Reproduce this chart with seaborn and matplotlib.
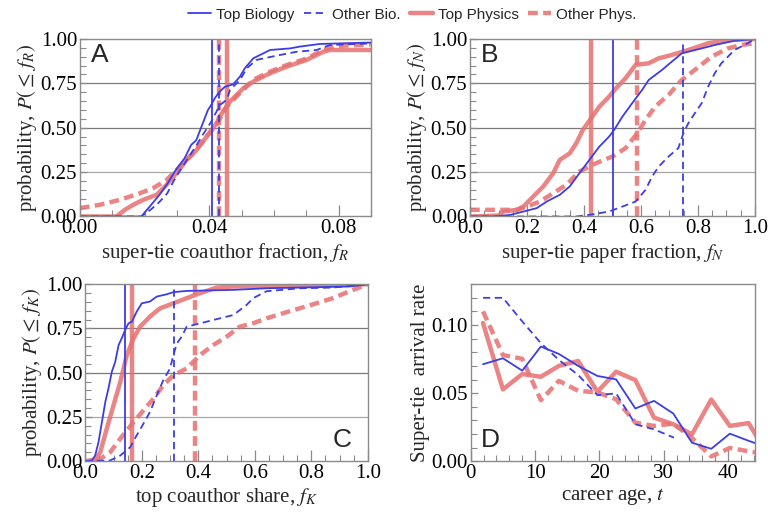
import matplotlib
matplotlib.use('Agg')
import matplotlib.pyplot as plt
from matplotlib.lines import Line2D
from matplotlib.ticker import MultipleLocator, FormatStrFormatter
import pandas as pd
import seaborn as sns

sns.set_theme(style='white')
plt.rcParams['font.family'] = ['Liberation Serif', 'DejaVu Serif']
plt.rcParams['mathtext.fontset'] = 'stix'

BLUE = '#3d3de6'
RED = '#e87070'

# ---- panel A: super-tie coauthor fraction f_R (CDFs)
a_topbio_x = [0, 0.019, 0.0216, 0.0246, 0.0272, 0.0293, 0.0324, 0.0344, 0.036, 0.037, 0.0386, 0.0396,
              0.0406, 0.0417, 0.0432, 0.0448, 0.0474, 0.0495, 0.051, 0.0536, 0.0588, 0.065, 0.068, 0.0742, 0.09]
a_topbio_y = [0, 0, 0.056, 0.122, 0.188, 0.253, 0.329, 0.403, 0.43, 0.478, 0.553, 0.60,
              0.628, 0.666, 0.703, 0.73, 0.745, 0.788, 0.835, 0.891, 0.938, 0.947, 0.957, 0.972, 0.98]
a_othbio_x = [0, 0.019, 0.022, 0.0245, 0.027, 0.029, 0.031, 0.0335, 0.036, 0.038, 0.0405, 0.0425,
              0.0433, 0.0454, 0.0464, 0.0495, 0.0516, 0.0546, 0.0608, 0.067, 0.0732, 0.0773, 0.09]
a_othbio_y = [0, 0, 0.04, 0.08, 0.13, 0.2, 0.26, 0.33, 0.4, 0.46, 0.53, 0.6,
              0.628, 0.657, 0.713, 0.769, 0.835, 0.882, 0.906, 0.928, 0.938, 0.966, 0.975]
a_topphy_x = [0, 0.0113, 0.0139, 0.0165, 0.0196, 0.0237, 0.0268, 0.0299, 0.033, 0.0361, 0.0392, 0.0423,
              0.0433, 0.0464, 0.0505, 0.0536, 0.0588, 0.0639, 0.0701, 0.0753, 0.0773, 0.09]
a_topphy_y = [0, 0, 0.0375, 0.066, 0.094, 0.122, 0.178, 0.244, 0.319, 0.375, 0.45, 0.525,
              0.565, 0.647, 0.722, 0.76, 0.807, 0.844, 0.882, 0.928, 0.938, 0.938]
a_othphy_x = [0, 0.0062, 0.0124, 0.0186, 0.0227, 0.0268, 0.0309, 0.035, 0.0392, 0.0423, 0.0454,
              0.0536, 0.0588, 0.0639, 0.0701, 0.0753, 0.079, 0.09]
a_othphy_y = [0.047, 0.066, 0.094, 0.131, 0.16, 0.206, 0.281, 0.356, 0.45, 0.52, 0.62,
              0.77, 0.816, 0.853, 0.89, 0.938, 0.96, 0.97]
a_medians = [0.0409, 0.0430, 0.0454, 0.0430]  # top bio, other bio, top phys, other phys

# ---- panel B: super-tie paper fraction f_N
b_topbio_x = [0, 0.083, 0.141, 0.1875, 0.234, 0.269, 0.315, 0.35, 0.384, 0.419, 0.454, 0.488, 0.506,
              0.535, 0.569, 0.604, 0.627, 0.674, 0.708, 0.743, 0.813, 0.859, 0.928, 1.0]
b_topbio_y = [0, 0, 0.009, 0.028, 0.047, 0.084, 0.122, 0.169, 0.244, 0.319, 0.394, 0.45, 0.488,
              0.563, 0.638, 0.713, 0.769, 0.826, 0.872, 0.919, 0.947, 0.966, 0.99, 1.0]
b_othbio_x = [0, 0.373, 0.419, 0.488, 0.535, 0.581, 0.616, 0.639, 0.662, 0.697, 0.731, 0.749, 0.766,
              0.789, 0.813, 0.836, 0.859, 0.882, 0.905, 0.928, 0.963, 1.0]
b_othbio_y = [0, 0, 0.009, 0.028, 0.056, 0.084, 0.15, 0.225, 0.281, 0.338, 0.385, 0.469, 0.525,
              0.582, 0.638, 0.732, 0.807, 0.863, 0.9, 0.938, 0.966, 1.0]
b_topphy_x = [0, 0.1, 0.118, 0.164, 0.1875, 0.222, 0.257, 0.292, 0.315, 0.35, 0.373, 0.396, 0.425,
              0.454, 0.488, 0.512, 0.546, 0.581, 0.627, 0.662, 0.708, 0.766, 0.836, 0.905, 1.0]
b_topphy_y = [0, 0.005, 0.028, 0.0375, 0.056, 0.113, 0.169, 0.244, 0.319, 0.356, 0.413, 0.488, 0.553,
              0.619, 0.675, 0.722, 0.779, 0.854, 0.863, 0.891, 0.91, 0.938, 0.976, 0.994, 1.0]
b_othphy_x = [0, 0.164, 0.2, 0.245, 0.292, 0.338, 0.384, 0.442, 0.5, 0.546, 0.587, 0.616, 0.65,
              0.697, 0.743, 0.789, 0.847, 0.905, 0.951, 1.0]
b_othphy_y = [0.0375, 0.0375, 0.056, 0.084, 0.131, 0.178, 0.253, 0.3, 0.338, 0.385, 0.469, 0.544, 0.619,
              0.685, 0.769, 0.826, 0.9, 0.947, 0.966, 0.976]
b_medians = [0.503, 0.746, 0.425, 0.587]

# ---- panel C: top coauthor share f_K
c_topbio_x = [0, 0.024, 0.035, 0.047, 0.059, 0.071, 0.082, 0.094, 0.106, 0.118, 0.129, 0.141, 0.153,
              0.165, 0.182, 0.2, 0.229, 0.253, 0.288, 0.312, 0.359, 0.524, 0.641, 0.935, 1.0]
c_topbio_y = [0, 0.004, 0.032, 0.108, 0.221, 0.335, 0.41, 0.505, 0.561, 0.656, 0.694, 0.741, 0.779,
              0.788, 0.845, 0.892, 0.902, 0.93, 0.943, 0.955, 0.962, 0.968, 0.977, 0.987, 1.0]
c_othbio_x = [0, 0.088, 0.124, 0.159, 0.182, 0.206, 0.229, 0.253, 0.276, 0.3, 0.312, 0.324, 0.341,
              0.359, 0.382, 0.429, 0.476, 0.524, 0.571, 0.594, 0.641, 0.759, 0.876, 0.947, 1.0]
c_othbio_y = [0, 0.004, 0.032, 0.079, 0.146, 0.212, 0.278, 0.372, 0.457, 0.524, 0.6, 0.665, 0.703,
              0.76, 0.769, 0.788, 0.807, 0.826, 0.883, 0.921, 0.96, 0.977, 0.981, 0.992, 1.0]
c_topphy_x = [0, 0.035, 0.053, 0.076, 0.1, 0.124, 0.147, 0.171, 0.194, 0.229, 0.265, 0.312, 0.359,
              0.406, 0.465, 0.524, 1.0]
c_topphy_y = [0, 0.01, 0.05, 0.183, 0.316, 0.448, 0.6, 0.694, 0.76, 0.817, 0.864, 0.892, 0.921,
              0.949, 0.981, 0.987, 1.0]
c_othphy_x = [0.04, 0.053, 0.088, 0.124, 0.171, 0.206, 0.241, 0.276, 0.312, 0.359, 0.406, 0.453, 0.5,
              0.547, 0.594, 0.641, 0.7, 0.759, 0.818, 0.876, 0.935, 1.0]
c_othphy_y = [0, 0.013, 0.05, 0.127, 0.221, 0.287, 0.353, 0.429, 0.486, 0.524, 0.6, 0.656, 0.703,
              0.76, 0.779, 0.807, 0.836, 0.864, 0.892, 0.921, 0.96, 1.0]
c_medians = [0.141, 0.314, 0.167, 0.388]

# ---- panel D: super-tie arrival rate vs career age
d_age = [1.9, 5.0, 8.0, 10.9, 13.7, 16.7, 19.7, 22.6, 25.6, 28.5, 31.5, 34.4, 37.4, 40.3, 43.2, 46.2]
d_topbio = [0.0712, 0.0756, 0.0665, 0.0842, 0.0788, 0.070, 0.0626, 0.0601, 0.0387, 0.0443, 0.035,
            0.0136, 0.0091, 0.0202, 0.015, 0.010]
d_topphy = [0.1015, 0.0527, 0.064, 0.062, 0.070, 0.0736, 0.051, 0.0657, 0.0596, 0.032, 0.0271,
            0.0197, 0.0453, 0.0259, 0.028, 0.005]
d_othphy = [0.110, 0.078, 0.0752, 0.0448, 0.059, 0.0517, 0.0505, 0.0455, 0.0283, 0.0259, 0.0276,
            0.017, 0.0035, 0.0097, 0.0073, 0.005]
d_othbio_age = [1.9, 5.0, 8.0, 10.9, 13.7, 16.7, 19.7, 22.6, 25.6, 28.5, 31.6]
d_othbio = [0.12, 0.12, 0.1027, 0.0867, 0.0744, 0.0633, 0.0485, 0.0498, 0.0271, 0.0234, 0.0173]

labels = ['Top Biology', 'Other Bio.', 'Top Physics', 'Other Phys.']
styles = [dict(color=BLUE, lw=1.3, ls='-'),
          dict(color=BLUE, lw=1.3, ls=(0, (4, 2.5))),
          dict(color=RED, lw=3.2, ls='-', alpha=0.85),
          dict(color=RED, lw=3.2, ls=(0, (2.2, 1.2)), alpha=0.85)]

fig = plt.figure(figsize=(7.68, 5.13), dpi=100)
axA = fig.add_axes([0.104, 0.578, 0.379, 0.346])
axB = fig.add_axes([0.612, 0.578, 0.371, 0.346])
axC = fig.add_axes([0.111, 0.101, 0.368, 0.345])
axD = fig.add_axes([0.613, 0.101, 0.370, 0.345])

cdfs = [
    (axA, [(a_topbio_x, a_topbio_y), (a_othbio_x, a_othbio_y), (a_topphy_x, a_topphy_y), (a_othphy_x, a_othphy_y)],
     a_medians, (0, 0.09), r'super-tie coauthor fraction, $f_R$', r'probability, $P(\leq\, f_R)$'),
    (axB, [(b_topbio_x, b_topbio_y), (b_othbio_x, b_othbio_y), (b_topphy_x, b_topphy_y), (b_othphy_x, b_othphy_y)],
     b_medians, (0, 1.0), r'super-tie paper fraction, $f_N$', r'probability, $P(\leq\, f_N)$'),
    (axC, [(c_topbio_x, c_topbio_y), (c_othbio_x, c_othbio_y), (c_topphy_x, c_topphy_y), (c_othphy_x, c_othphy_y)],
     c_medians, (0, 1.0), r'top coauthor share, $f_K$', r'probability, $P(\leq\, f_K)$'),
]

FS = 15
for ax, curves, meds, xlim, xlab, ylab in cdfs:
    ax.axhline(0.25, color='#a8a8a8', lw=0.9, zorder=0)
    for y in [0.5, 0.75]:
        ax.axhline(y, color='#7a7a7a', lw=0.9, zorder=0)
    # draw red first, blue on top
    for i in [2, 3, 0, 1]:
        xs, ys = curves[i]
        df = pd.DataFrame({'x': xs, 'y': ys})
        sns.lineplot(data=df, x='x', y='y', ax=ax, estimator=None, sort=False, **styles[i])
        ax.axvline(meds[i], **styles[i])
    ax.set_xlim(*xlim)
    ax.set_ylim(0, 1.0)
    ax.yaxis.set_major_locator(MultipleLocator(0.25))
    ax.yaxis.set_minor_locator(MultipleLocator(0.05))
    ax.yaxis.set_major_formatter(FormatStrFormatter('%.2f'))
    ax.set_xlabel(xlab, fontsize=FS, labelpad=2)
    ax.set_ylabel(ylab, fontsize=FS, labelpad=1)

axA.xaxis.set_major_locator(MultipleLocator(0.04))
axA.xaxis.set_minor_locator(MultipleLocator(0.01))
axA.xaxis.set_major_formatter(FormatStrFormatter('%.2f'))
for ax in [axB, axC]:
    ax.xaxis.set_major_locator(MultipleLocator(0.2))
    ax.xaxis.set_minor_locator(MultipleLocator(0.05))
    ax.xaxis.set_major_formatter(FormatStrFormatter('%.1f'))

# panel D
d_series = [(d_age, d_topbio), (d_othbio_age, d_othbio), (d_age, d_topphy), (d_age, d_othphy)]
for i in [2, 3, 0, 1]:
    xs, ys = d_series[i]
    df = pd.DataFrame({'t': xs, 'rate': ys})
    sns.lineplot(data=df, x='t', y='rate', ax=axD, estimator=None, sort=False, **styles[i])
axD.set_xlim(0, 44.2)
axD.set_ylim(0, 0.13)
axD.xaxis.set_major_locator(MultipleLocator(10))
axD.xaxis.set_minor_locator(MultipleLocator(2))
axD.yaxis.set_major_locator(MultipleLocator(0.05))
axD.yaxis.set_minor_locator(MultipleLocator(0.01))
axD.yaxis.set_major_formatter(FormatStrFormatter('%.2f'))
axD.set_xlabel(r'career age, $t$', fontsize=FS, labelpad=2)
axD.set_ylabel('Super-tie  arrival rate', fontsize=FS, labelpad=1)

for ax in [axA, axB, axC, axD]:
    for s in ax.spines.values():
        s.set_color('#8a8a8a')
        s.set_linewidth(1.0)
    ax.tick_params(which='both', direction='in', left=True, bottom=True, top=False, right=False,
                   colors='#8a8a8a', labelcolor='black', labelsize=FS, pad=2)
    ax.tick_params(which='major', length=8, width=0.9)
    ax.tick_params(which='minor', length=4, width=0.8)
    ax.tick_params(axis='y', which='major', length=5)

panel_font = {'family': ['Liberation Sans', 'DejaVu Sans'], 'size': 19}
axA.text(0.07, 0.91, 'A', transform=axA.transAxes, ha='center', va='center', fontdict=panel_font)
axB.text(0.07, 0.91, 'B', transform=axB.transAxes, ha='center', va='center', fontdict=panel_font)
axC.text(0.91, 0.12, 'C', transform=axC.transAxes, ha='center', va='center', fontdict=panel_font)
axD.text(0.07, 0.12, 'D', transform=axD.transAxes, ha='center', va='center', fontdict=panel_font)

handles = [Line2D([], [], **st) for st in styles]
fig.legend(handles, labels, loc='upper center', bbox_to_anchor=(0.537, 1.012), ncol=4, frameon=False,
           prop={'family': ['Liberation Sans', 'DejaVu Sans'], 'size': 11},
           handlelength=1.5, columnspacing=0.6, handletextpad=0.35)

fig.savefig('out.png', dpi=100)
